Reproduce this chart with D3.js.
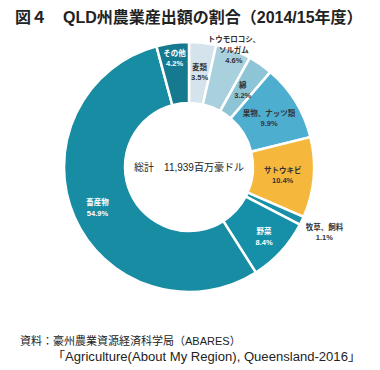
<!DOCTYPE html>
<html>
<head>
<meta charset="utf-8">
<script src="https://cdn.jsdelivr.net/npm/d3@7"></script>
<style>
  body { margin: 0; background: #fff; }
  svg { display: block; font-family: "Liberation Sans", "Noto Sans CJK JP", sans-serif; }
</style>
</head>
<body>
<svg id="chart" width="380" height="370"></svg>
<script>
// categories clockwise from 12 o'clock
const categories = ["麦類", "トウモロコシ、ソルガム", "綿", "果物、ナッツ類", "サトウキビ", "牧草、飼料", "野菜", "畜産物", "その他"];
const shares = [3.5, 4.6, 3.2, 9.9, 10.4, 1.1, 8.4, 54.9, 4.2];
const labelLines = [["麦類"], ["トウモロコシ、", "ソルガム"], ["綿"], ["果物、ナッツ類"], ["サトウキビ"], ["牧草、飼料"], ["野菜"], ["畜産物"], ["その他"]];
const totalText = "総計　11,939百万豪ドル";

// styling
const colors = ["#d5e3ec", "#a8d0dd", "#8ec5d6", "#4eaed0", "#f6b83c", "#1a90a8", "#1590a8", "#178ca3", "#157a90"];
const textColors = ["#333", "#333", "#333", "#333", "#333", "#333", "#fff", "#fff", "#fff"];
const labelR = [96, 126, 94, 94, 94, 150, 102, 100, 110];

const cx = 189, cy = 167, rOut = 125, rIn = 64;

const svg = d3.select("#chart");

svg.append("text")
    .attr("x", 15).attr("y", 23)
    .attr("font-size", 16).attr("font-weight", "bold").attr("fill", "#222")
    .text("図４　QLD州農業産出額の割合（2014/15年度）");

const pie = d3.pie().sort(null).value(d => d)(shares);
const arc = d3.arc().innerRadius(rIn).outerRadius(rOut);

const g = svg.append("g").attr("transform", `translate(${cx},${cy})`);

g.selectAll("path")
    .data(pie)
    .enter()
    .append("path")
    .attr("d", arc)
    .attr("fill", (d, i) => colors[i])
    .attr("stroke", "#fff")
    .attr("stroke-width", 2.5);

const lab = g.selectAll("text.lab")
    .data(pie)
    .enter()
    .append("text")
    .attr("class", "lab")
    .attr("text-anchor", "middle")
    .attr("font-size", 7.5)
    .attr("font-weight", "bold")
    .attr("fill", (d, i) => textColors[i])
    .attr("transform", (d, i) => {
        const a = (d.startAngle + d.endAngle) / 2;
        const n = labelLines[i].length + 1;
        return `translate(${labelR[i] * Math.sin(a)},${-labelR[i] * Math.cos(a) - (n - 1) * 5 + 3})`;
    });

lab.each(function(d, i) {
    const t = d3.select(this);
    labelLines[i].concat([d.data.toFixed(1) + "%"]).forEach((s, k) => {
        t.append("tspan").attr("x", 0).attr("dy", k === 0 ? 0 : 10.5).text(s);
    });
});

g.append("text")
    .attr("text-anchor", "middle")
    .attr("y", 4)
    .attr("font-size", 10)
    .attr("fill", "#222")
    .text(totalText);

svg.append("text")
    .attr("x", 20).attr("y", 345)
    .attr("font-size", 11).attr("fill", "#222")
    .text("資料：豪州農業資源経済科学局（ABARES）");
svg.append("text")
    .attr("x", 52).attr("y", 361)
    .attr("font-size", 12).attr("fill", "#222")
    .attr("textLength", 309).attr("lengthAdjust", "spacingAndGlyphs")
    .text("「Agriculture(About My Region), Queensland-2016」");
</script>
</body>
</html>
